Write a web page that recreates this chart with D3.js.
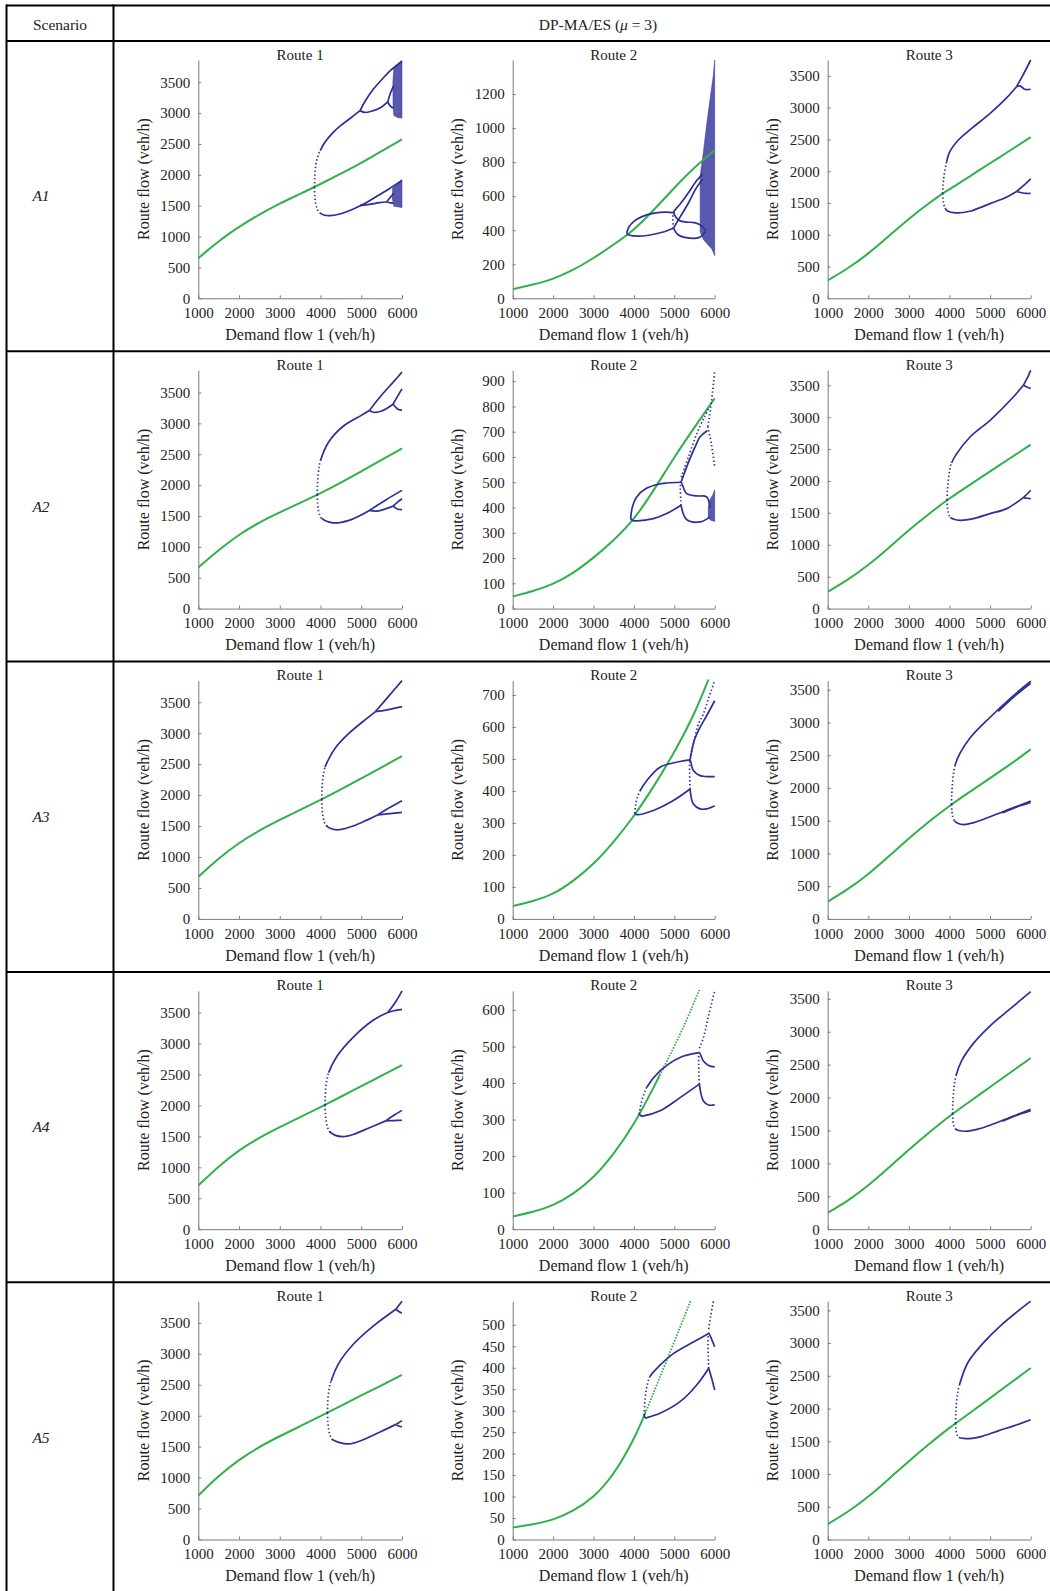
<!DOCTYPE html>
<html><head><meta charset="utf-8">
<script src="https://cdn.jsdelivr.net/npm/d3@7"></script>
<style>
body{margin:0;background:#fff;}
</style></head><body>
<svg id="c" width="1050" height="1591"></svg>
<script>
// ---------------- DATA ----------------
const scenarios = ["A1","A2","A3","A4","A5"];
const routes = ["Route 1","Route 2","Route 3"];
const xTicks = [1000,2000,3000,4000,5000,6000];
const ticksRoute13 = [0,500,1000,1500,2000,2500,3000,3500];
const ticksA1R2 = [0,200,400,600,800,1000,1200];
const ticksA2R2 = [0,100,200,300,400,500,600,700,800,900];
const ticksA3R2 = [0,100,200,300,400,500,600,700];
const ticksA4R2 = [0,100,200,300,400,500,600];
const ticksA5R2 = [0,50,100,150,200,250,300,350,400,450,500];
const yMax = [[3860,1400,3750],[3860,943,3735],[3850,745,3640],[3850,652,3620],[3850,555,3640]];

// A1
const g11 = [[1000,650],[1250,790],[1500,920],[1750,1045],[2000,1160],[2500,1360],[3000,1540],[3500,1690],[4000,1850],[4500,2020],[5000,2190],[5500,2385],[6000,2575]];
const d11 = [[[3850,1800],[3858,1950],[3875,2100],[3905,2230],[3950,2330],[3990,2390]],[[3850,1800],[3860,1650],[3885,1520],[3930,1430],[3990,1380]]];
const s11 = [[[3990,2390],[4100,2520],[4300,2680],[4500,2800],[4700,2900],[4970,3040]],
 [[4970,3040],[5100,3200],[5300,3390],[5500,3540],[5700,3680],[6000,3840]],
 [[4970,3040],[5100,3010],[5300,3040],[5500,3100],[5650,3180]],
 [[5650,3180],[5720,3330],[5800,3450]],[[5650,3180],[5720,3110],[5800,3080]],
 [[3990,1380],[4100,1345],[4250,1340],[4500,1370],[4750,1430],[4970,1500]],
 [[4970,1500],[5150,1560],[5400,1660],[5700,1780],[6000,1910]],
 [[4970,1500],[5200,1520],[5450,1550],[5620,1560]],
 [[5620,1560],[5720,1640],[5800,1700]],[[5620,1560],[5720,1545],[5800,1540]]];
const c11 = [[[5780,3120],[5800,2960],[5900,2925],[6000,2920],[6000,3850],[5900,3790],[5800,3730],[5775,3500]],
 [[5760,1620],[5800,1490],[6000,1470],[6000,1920],[5850,1850],[5770,1790]]];

const g12 = [[1000,53],[1500,80],[2000,112],[2500,165],[3000,235],[3500,315],[4000,400],[4500,520],[5000,650],[5500,770],[6000,870]];
const s12 = [[[3820,382],[3880,420],[4000,452],[4200,480],[4500,500],[4800,506],[4980,503]],
 [[3820,382],[3900,370],[4100,365],[4400,372],[4700,388],[4980,412]],
 [[4980,503],[5150,555],[5350,620],[5550,690],[5700,730]],
 [[4980,412],[5150,480],[5350,560],[5550,650],[5700,700]],
 [[4980,503],[5100,460],[5300,448],[5500,445],[5650,430],[5780,400]],
 [[4980,412],[5100,372],[5300,356],[5500,352],[5650,362],[5780,395]]];
const d12 = [[[4980,412],[4980,503]]];
const c12 = [[[5640,720],[5720,860],[5800,1020],[5890,1180],[5960,1300],[6000,1400],[6000,250],[5930,290],[5850,310],[5720,345],[5640,390]]];

const g13 = [[1000,280],[1500,470],[2000,700],[2500,975],[3000,1255],[3500,1500],[3830,1650],[4000,1715],[4500,1920],[5000,2125],[5500,2330],[6000,2535]];
const d13 = [[[3830,1650],[3840,1780],[3860,1900],[3890,2030],[3930,2150]],[[3830,1650],[3840,1560],[3860,1480],[3890,1420]]];
const s13 = [[[3930,2150],[4000,2300],[4200,2480],[4500,2650],[5000,2910],[5400,3150],[5650,3330]],
 [[5650,3330],[5800,3500],[6000,3750]],[[5650,3330],[5750,3340],[5850,3290],[6000,3290]],
 [[3890,1420],[3950,1375],[4150,1345],[4500,1370],[5000,1490],[5400,1590],[5650,1680]],
 [[5650,1680],[5800,1760],[6000,1880]],[[5650,1680],[5750,1665],[5900,1650],[6000,1650]]];
const c13 = [];

// A2
const g21 = [[1000,665],[1500,950],[2000,1200],[2500,1400],[3000,1560],[3500,1710],[4000,1870],[4500,2040],[5000,2220],[5500,2410],[6000,2595]];
const d21 = [[[3920,1845],[3925,2000],[3940,2150],[3965,2290],[4000,2400]],[[3920,1845],[3930,1700],[3950,1590],[3985,1510],[4030,1460]]];
const s21 = [[[4000,2400],[4200,2700],[4550,2950],[5000,3130],[5200,3210]],
 [[5200,3210],[5500,3460],[5800,3680],[6000,3830]],[[5200,3210],[5300,3180],[5500,3200],[5780,3310]],
 [[5780,3310],[5900,3450],[6000,3560]],[[5780,3310],[5900,3230],[6000,3215]],
 [[4030,1460],[4300,1390],[4700,1430],[5200,1590]],
 [[5200,1590],[5600,1760],[6000,1915]],[[5200,1590],[5400,1580],[5780,1660]],
 [[5780,1660],[5900,1730],[6000,1780]],[[5780,1660],[5900,1610],[6000,1605]]];
const c21 = [];

const g22 = [[1000,48],[1500,68],[2000,96],[2500,140],[3000,200],[3500,270],[4000,350],[4500,470],[5000,600],[5500,718],[6000,832]];
const s22 = [[[3920,355],[3960,400],[4069,442],[4300,475],[4600,492],[4812,497],[5167,500]],
 [[3920,355],[3980,348],[4069,347],[4482,356],[4812,376],[5167,409]],
 [[5167,500],[5307,455],[5555,446],[5800,442],[5885,400]],
 [[5167,409],[5307,352],[5637,343],[5885,363]],
 [[5167,500],[5307,561],[5500,635],[5640,680],[5820,705]]];
const d22 = [[[5167,409],[5167,500]],[[5170,520],[5350,600],[5550,690],[5750,760],[5840,790]],
 [[5830,720],[5920,820],[6000,940]],[[5830,720],[5920,650],[6000,560]]];
const c22 = [[[5840,360],[5900,350],[6000,345],[6000,470],[5950,450],[5880,430],[5840,400]]];

const g23 = [[1000,262],[1500,450],[2000,680],[2500,950],[3000,1230],[3500,1490],[4000,1730],[4500,1940],[5000,2150],[5500,2360],[6000,2570]];
const d23 = [[[3940,1705],[3950,1850],[3970,2000],[4000,2150],[4050,2280]],[[3940,1705],[3950,1580],[3975,1490],[4020,1430]]];
const s23 = [[[4050,2280],[4177,2429],[4506,2690],[5000,2952],[5573,3317],[5819,3500]],
 [[5819,3500],[5920,3620],[6000,3735]],[[5819,3500],[5920,3470],[6000,3450]],
 [[4020,1430],[4095,1405],[4260,1384],[4588,1410],[5000,1489],[5409,1567],[5819,1740]],
 [[5819,1740],[5920,1800],[6000,1855]],[[5819,1740],[5920,1730],[6000,1724]]];
const c23 = [];

// A3
const g31 = [[1000,680],[1500,980],[2000,1230],[2500,1430],[3000,1600],[3500,1760],[4000,1920],[4500,2090],[5000,2270],[5500,2450],[6000,2630]];
const d31 = [[[4030,1930],[4035,2080],[4050,2220],[4075,2350],[4110,2450]],[[4030,1930],[4040,1780],[4060,1660],[4090,1570],[4140,1510]]];
const s31 = [[[4110,2450],[4200,2580],[4350,2750],[4700,3000],[5100,3220],[5350,3350]],
 [[5350,3350],[5700,3620],[6000,3850]],[[5350,3350],[5500,3360],[5800,3400],[6000,3430]],
 [[4140,1510],[4250,1460],[4450,1440],[4800,1500],[5150,1600],[5400,1680]],
 [[5400,1680],[5700,1800],[6000,1910]],[[5400,1680],[5700,1700],[6000,1720]]];
const c31 = [];

const g32 = [[1000,40],[1500,55],[2000,76],[2500,118],[3000,170],[3500,240],[4000,320],[4500,415],[5000,520],[5500,640],[5850,750]];
const d32 = [[[4020,330],[4040,355],[4069,372],[4150,400]],[[5390,406],[5390,497]],
 [[5400,510],[5472,547],[5600,610],[5720,641],[5850,690],[6000,745]]];
const s32 = [[[4150,400],[4317,432],[4647,474],[5142,492],[5390,497]],
 [[4020,330],[4069,326],[4482,339],[4977,370],[5390,406]],
 [[5390,497],[5472,464],[5637,448],[5800,445],[6000,445]],
 [[5390,406],[5472,359],[5637,344],[5802,344],[6000,354]],
 [[5390,497],[5500,560],[5637,599],[5800,635],[6000,682]]];
const c32 = [];

const g33 = [[1000,265],[1500,450],[2000,680],[2500,950],[3000,1230],[3500,1490],[4000,1730],[4500,1940],[5000,2150],[5500,2360],[6000,2590]];
const d33 = [[[4050,1750],[4055,1900],[4070,2050],[4095,2200],[4130,2330]],[[4050,1750],[4060,1640],[4080,1560],[4120,1500]]];
const s33 = [[[4130,2330],[4250,2520],[4500,2760],[5000,3080],[5500,3370],[6000,3630]],
 [[5200,3170],[5600,3400],[6000,3600]],
 [[4120,1500],[4200,1460],[4350,1440],[4600,1470],[5000,1560],[5500,1680],[6000,1800]],
 [[5300,1620],[5700,1720],[6000,1780]]];
const c33 = [];

// A4
const g41 = [[1000,705],[1500,1020],[2000,1280],[2500,1480],[3000,1650],[3500,1810],[4000,1970],[4500,2140],[5000,2310],[5500,2480],[6000,2650]];
const d41 = [[[4110,2005],[4115,2150],[4130,2300],[4160,2430],[4200,2530]],[[4110,2005],[4120,1860],[4140,1740],[4175,1640],[4220,1580]]];
const s41 = [[[4200,2530],[4400,2790],[4800,3100],[5300,3380],[5650,3500]],
 [[5650,3500],[5850,3680],[6000,3850]],[[5650,3500],[5800,3530],[6000,3550]],
 [[4220,1580],[4350,1520],[4550,1495],[4800,1530],[5200,1640],[5600,1750]],
 [[5600,1750],[5800,1840],[6000,1920]],[[5600,1750],[5800,1755],[6000,1760]]];
const c41 = [];

const g42 = [[1000,35],[1500,47],[2000,64],[2500,96],[3000,140],[3500,205],[4000,285],[4500,390],[5000,500],[5300,570],[5620,655]];
const d42 = [[[4130,315],[4180,345],[4250,370],[4317,388]],[[5620,397],[5620,483]],
 [[5620,495],[5720,524],[5850,585],[6000,652]]];
const s42 = [[[4317,388],[4647,433],[5142,470],[5620,483]],
 [[4130,315],[4180,310],[4235,310],[4647,324],[5142,360],[5620,397]],
 [[5620,483],[5720,460],[5850,448],[6000,444]],
 [[5620,397],[5720,351],[5850,340],[6000,340]]];
const c42 = [];

const g43 = [[1000,250],[1500,430],[2000,660],[2500,930],[3000,1210],[3500,1470],[4000,1720],[4500,1940],[5000,2160],[5500,2380],[6000,2600]];
const d43 = [[[4075,1755],[4080,1900],[4095,2050],[4120,2200],[4160,2330]],[[4075,1755],[4085,1640],[4110,1560],[4150,1520]]];
const s43 = [[[4160,2330],[4300,2560],[4600,2830],[5000,3090],[5500,3350],[6000,3610]],
 [[4150,1520],[4250,1495],[4450,1490],[4700,1520],[5000,1580],[5500,1700],[6000,1820]],
 [[5300,1640],[5700,1740],[6000,1800]]];
const c43 = [];

// A5
const g51 = [[1000,710],[1500,1030],[2000,1290],[2500,1500],[3000,1670],[3500,1830],[4000,1990],[4500,2160],[5000,2330],[5500,2490],[6000,2660]];
const d51 = [[[4170,2045],[4175,2190],[4190,2330],[4220,2460],[4260,2560]],[[4170,2045],[4180,1900],[4200,1780],[4235,1680],[4280,1620]]];
const s51 = [[[4260,2560],[4450,2850],[4800,3150],[5300,3450],[5850,3720]],
 [[5850,3720],[5930,3790],[6000,3850]],[[5850,3720],[5930,3680],[6000,3660]],
 [[4280,1620],[4450,1570],[4700,1545],[5000,1600],[5500,1750],[5850,1860]],
 [[5850,1860],[5930,1890],[6000,1920]],[[5850,1860],[5930,1830],[6000,1820]]];
const c51 = [];

const g52 = [[1000,28],[1500,35],[2000,45],[2500,66],[3000,97],[3500,150],[4000,232],[4300,298],[4600,368],[5000,460],[5420,560]];
const d52 = [[[4251,290],[4280,330],[4330,360],[4400,380]],[[5852,399],[5852,480]],
 [[5852,490],[5900,520],[5967,555]]];
const s52 = [[[4400,380],[4647,406],[4977,433],[5472,460],[5852,480]],
 [[4251,290],[4290,283],[4330,284],[4647,294],[5142,321],[5555,360],[5852,399]],
 [[5852,480],[5930,465],[6000,449]],
 [[5852,399],[5926,375],[6000,348]]];
const c52 = [];

const g53 = [[1000,235],[1500,420],[2000,650],[2500,920],[3000,1200],[3500,1460],[4000,1710],[4500,1930],[5000,2160],[5500,2390],[6000,2620]];
const d53 = [[[4150,1775],[4155,1930],[4170,2080],[4200,2230],[4240,2350]],[[4150,1775],[4160,1670],[4185,1600],[4230,1560]]];
const s53 = [[[4240,2350],[4450,2700],[4800,2980],[5300,3290],[6000,3640]],
 [[4230,1560],[4350,1545],[4550,1545],[4800,1575],[5200,1660],[5600,1740],[6000,1830]]];
const c53 = [];

// ---------------- LAYOUT ----------------
const panels = [
 {r:0,c:0,g:g11,s:s11,d:d11,cl:c11,t:ticksRoute13},{r:0,c:1,g:g12,s:s12,d:d12,cl:c12,t:ticksA1R2},{r:0,c:2,g:g13,s:s13,d:d13,cl:c13,t:ticksRoute13},
 {r:1,c:0,g:g21,s:s21,d:d21,cl:c21,t:ticksRoute13},{r:1,c:1,g:g22,s:s22,d:d22,cl:c22,t:ticksA2R2},{r:1,c:2,g:g23,s:s23,d:d23,cl:c23,t:ticksRoute13},
 {r:2,c:0,g:g31,s:s31,d:d31,cl:c31,t:ticksRoute13},{r:2,c:1,g:g32,s:s32,d:d32,cl:c32,t:ticksA3R2},{r:2,c:2,g:g33,s:s33,d:d33,cl:c33,t:ticksRoute13},
 {r:3,c:0,g:g41,s:s41,d:d41,cl:c41,t:ticksRoute13},{r:3,c:1,g:g42,s:s42,d:d42,cl:c42,t:ticksA4R2,dash:4650},{r:3,c:2,g:g43,s:s43,d:d43,cl:c43,t:ticksRoute13},
 {r:4,c:0,g:g51,s:s51,d:d51,cl:c51,t:ticksRoute13},{r:4,c:1,g:g52,s:s52,d:d52,cl:c52,t:ticksA5R2,dash:4300},{r:4,c:2,g:g53,s:s53,d:d53,cl:c53,t:ticksRoute13}
];

const FONT = '"Liberation Serif","Times New Roman",serif';
const BLUE = "#2e2e98", GREEN = "#2fb24c", AXIS = "#7a7a7a", TXT = "#222";
const DOT = [1.4, 2.4];
const svg = d3.select("#c");
const defs = svg.append("defs");
const rowH = 310.3, firstRow = 41;
const rowTop = i => firstRow + i*rowH;
const colX0 = [198.3, 512.7, 827.7], colX1 = [402, 714.7, 1030.7];

// table lines
const tl = svg.append("g").attr("stroke","#000").attr("stroke-width",2);
tl.append("line").attr("x1",6).attr("x2",1050).attr("y1",5.5).attr("y2",5.5);
for (let i=0;i<5;i++) tl.append("line").attr("x1",6).attr("x2",1050).attr("y1",rowTop(i)).attr("y2",rowTop(i));
tl.append("line").attr("x1",6.5).attr("x2",6.5).attr("y1",4.5).attr("y2",1591);
tl.append("line").attr("x1",113.5).attr("x2",113.5).attr("y1",4.5).attr("y2",1591);

svg.append("text").attr("x",60).attr("y",29.5).attr("text-anchor","middle")
  .attr("font-family",FONT).attr("font-size",15.5).attr("fill",TXT).text("Scenario");
const hd = svg.append("text").attr("x",598).attr("y",29.5).attr("text-anchor","middle")
  .attr("font-family",FONT).attr("font-size",15.5).attr("fill",TXT);
hd.append("tspan").text("DP-MA/ES (");
hd.append("tspan").attr("font-style","italic").text("\u03bc");
hd.append("tspan").text(" = 3)");

scenarios.forEach((s,i)=>{
  svg.append("text").attr("x",41).attr("y",rowTop(i)+155).attr("dy","0.35em").attr("text-anchor","middle")
    .attr("font-family",FONT).attr("font-size",15.5).attr("font-style","italic").attr("fill",TXT).text(s);
});

const curve = d3.curveCatmullRom.alpha(0.5);

panels.forEach((p,k)=>{
  const top = rowTop(p.r);
  const x0 = colX0[p.c], x1 = colX1[p.c];
  const yT = top+19, yB = top+257.3;
  const x = d3.scaleLinear().domain([1000,6000]).range([x0,x1]);
  const y = d3.scaleLinear().domain([0,yMax[p.r][p.c]]).range([yB,yT]);
  const line = d3.line().x(d=>x(d[0])).y(d=>y(d[1])).curve(curve);
  const gline = d3.line().x(d=>x(d[0])).y(d=>y(d[1])).curve(d3.curveBasis);
  const poly = d3.line().x(d=>x(d[0])).y(d=>y(d[1])).curve(d3.curveLinearClosed);

  defs.append("clipPath").attr("id","cp"+k).append("rect")
    .attr("x",x0).attr("y",yT-1).attr("width",x1-x0+1.5).attr("height",yB-yT+1);
  const g = svg.append("g").attr("clip-path",`url(#cp${k})`);

  // chaotic clouds
  g.selectAll(".cl").data(p.cl).join("path").attr("d",poly)
    .attr("fill",BLUE).attr("fill-opacity",0.8).attr("stroke",BLUE).attr("stroke-width",0.8).attr("stroke-opacity",0.6);

  // green equilibrium
  if (p.dash) {
    const xd = x(p.dash);
    defs.append("clipPath").attr("id","cpa"+k).append("rect").attr("x",x0-2).attr("y",yT-2).attr("width",xd-x0+2).attr("height",yB-yT+4);
    defs.append("clipPath").attr("id","cpb"+k).append("rect").attr("x",xd).attr("y",yT-2).attr("width",x1-xd+2).attr("height",yB-yT+4);
    g.append("g").attr("clip-path",`url(#cpa${k})`).append("path").datum(p.g).attr("d",gline)
      .attr("fill","none").attr("stroke",GREEN).attr("stroke-width",2);
    g.append("g").attr("clip-path",`url(#cpb${k})`).append("path").datum(p.g).attr("d",gline)
      .attr("fill","none").attr("stroke",GREEN).attr("stroke-width",1.8).attr("stroke-dasharray","1.6 1.4");
  } else {
    g.append("path").datum(p.g).attr("d",gline).attr("fill","none").attr("stroke",GREEN).attr("stroke-width",2);
  }

  // blue branches: sparse part merged with its solid continuation
  const used = new Set();
  p.d.forEach(dp=>{
    const last = dp[dp.length-1];
    const si = p.s.findIndex((sp,i)=>!used.has(i) && sp[0][0]===last[0] && sp[0][1]===last[1]);
    if (si >= 0) {
      used.add(si);
      const merged = dp.concat(p.s[si].slice(1));
      const path = g.append("path").datum(merged).attr("d",line)
        .attr("fill","none").attr("stroke",BLUE).attr("stroke-width",1.7);
      const node = path.node(), total = node.getTotalLength();
      const tx = x(last[0]), ty = y(last[1]);
      let best = 0, bd = 1e12;
      for (let l=0; l<=total; l+=0.4) {
        const pt = node.getPointAtLength(l);
        const dd = (pt.x-tx)**2 + (pt.y-ty)**2;
        if (dd < bd) { bd = dd; best = l; }
      }
      const arr = []; let acc = 0;
      while (acc < best) { arr.push(DOT[0], DOT[1]); acc += DOT[0]+DOT[1]; }
      arr.push(0, total+20);
      path.attr("stroke-dasharray", arr.join(" "));
      g.append("path").datum(merged).attr("d",line)
        .attr("fill","none").attr("stroke",BLUE).attr("stroke-width",1.7)
        .attr("stroke-dasharray", `0 ${best} ${total+20} 0`);
    } else {
      g.append("path").datum(dp).attr("d",line)
        .attr("fill","none").attr("stroke",BLUE).attr("stroke-width",1.7).attr("stroke-dasharray",DOT.join(" "));
    }
  });
  p.s.forEach((sp,i)=>{
    if (used.has(i)) return;
    g.append("path").datum(sp).attr("d",line)
      .attr("fill","none").attr("stroke",BLUE).attr("stroke-width",1.7);
  });

  // axes
  const xa = svg.append("g").attr("transform",`translate(0,${yB})`)
    .call(d3.axisBottom(x).tickValues(xTicks).tickSizeInner(-3).tickSizeOuter(0).tickPadding(9).tickFormat(d3.format("d")));
  const ya = svg.append("g").attr("transform",`translate(${x0},0)`)
    .call(d3.axisLeft(y).tickValues(p.t).tickSizeInner(-3).tickSizeOuter(0).tickPadding(8).tickFormat(d3.format("d")));
  [xa,ya].forEach(a=>{
    a.attr("font-family",FONT).attr("font-size",15);
    a.select(".domain").attr("stroke",AXIS);
    a.selectAll(".tick line").attr("stroke",AXIS);
    a.selectAll(".tick text").attr("fill",TXT);
  });

  // labels
  svg.append("text").attr("x",(x0+x1)/2).attr("y",top+18.5).attr("text-anchor","middle")
    .attr("font-family",FONT).attr("font-size",15).attr("fill",TXT).text(routes[p.c]);
  svg.append("text").attr("x",(x0+x1)/2).attr("y",top+299).attr("text-anchor","middle")
    .attr("font-family",FONT).attr("font-size",16).attr("fill",TXT).text("Demand flow 1 (veh/h)");
  svg.append("text").attr("transform",`translate(${x0-55},${(yT+yB)/2}) rotate(-90)`)
    .attr("text-anchor","middle").attr("dy","0.35em")
    .attr("font-family",FONT).attr("font-size",16).attr("fill",TXT).text("Route flow (veh/h)");
});
</script>
</body></html>
